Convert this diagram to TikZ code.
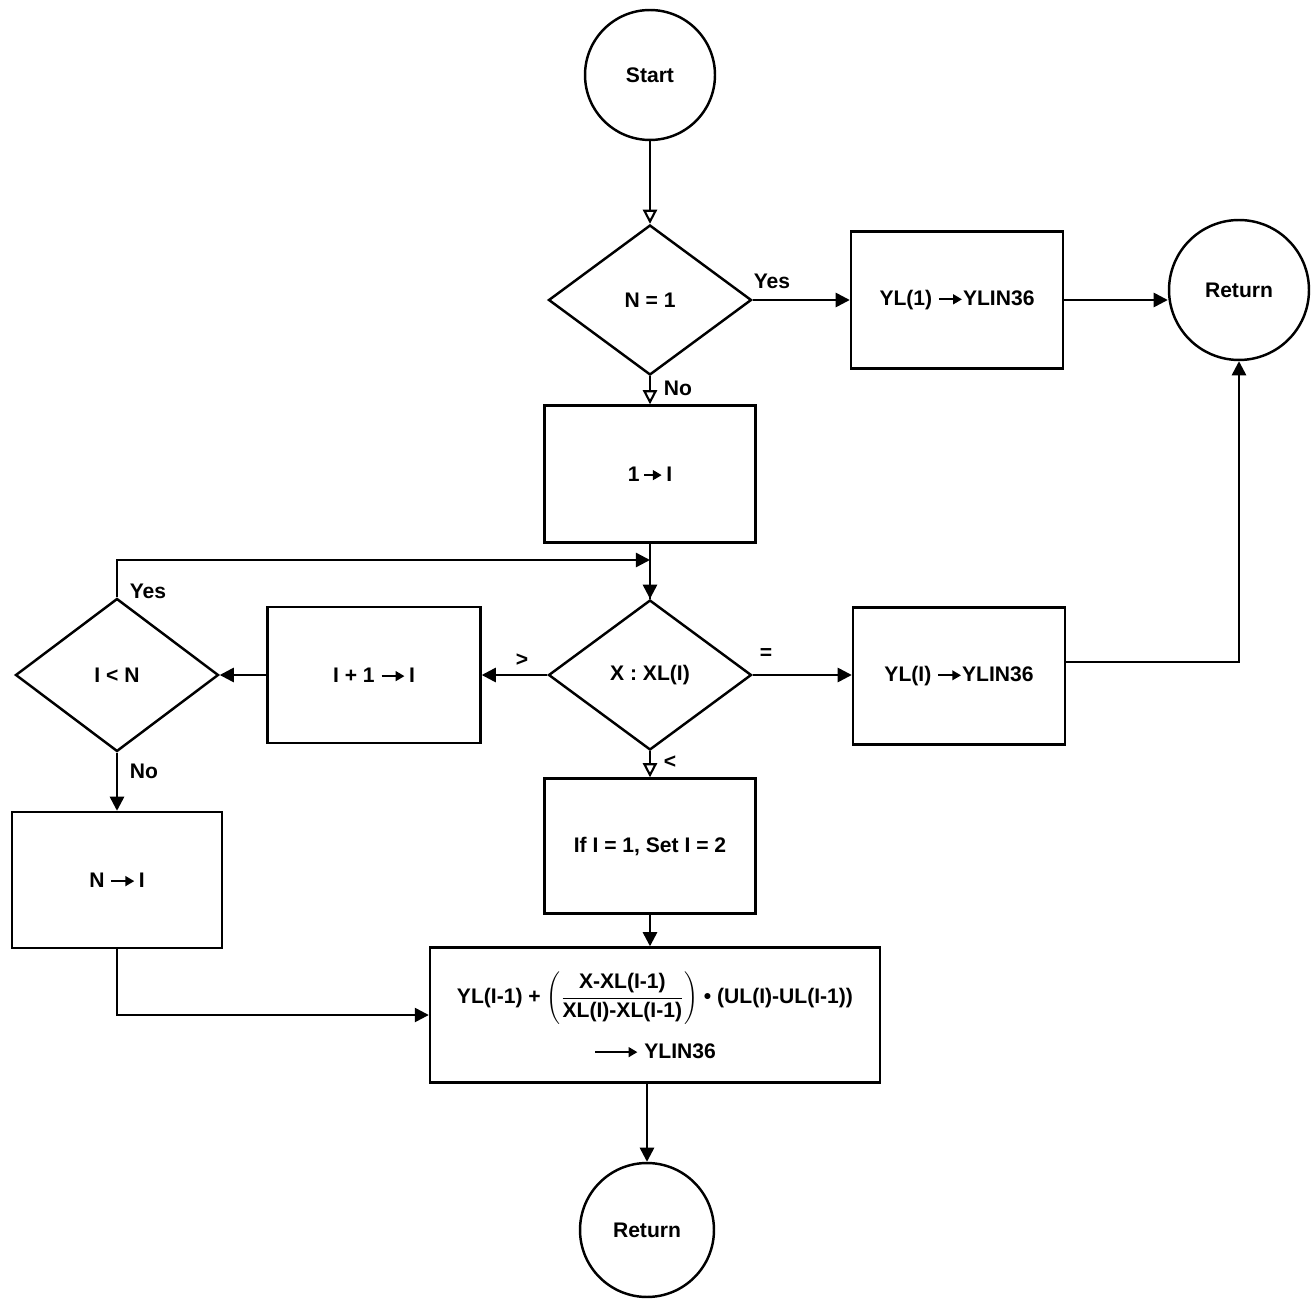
\documentclass[tikz,border=0pt]{standalone}
\usepackage{fontspec}
\setmainfont{Liberation Sans}
\usetikzlibrary{shapes.geometric,arrows.meta,calc}
\newcommand{\arr}[1][13pt]{\tikz[baseline=-0.55ex]\draw[line width=1.2pt,-{Triangle[length=5pt,width=5.5pt]}] (0pt,0pt) -- (#1,0pt);}
\begin{document}
\begin{tikzpicture}[x=0.02cm,y=-0.02cm,
  every node/.style={font=\fontsize{12}{14}\selectfont\bfseries},
  flow/.style={line width=1.4pt},
  fa/.style={flow,-{Triangle[length=8pt,width=8pt]}},
  oa/.style={flow,-{Triangle[open,length=8pt,width=8pt,line width=1.2pt]}},
  term/.style={draw,line width=1.4pt,circle,inner sep=0pt},
  proc/.style={draw,line width=1.4pt,rectangle,inner sep=2pt,minimum width=4.22cm,minimum height=2.74cm},
  dec/.style={draw,line width=1.4pt,diamond,inner sep=0pt,aspect=1.35,minimum width=4.06cm,minimum height=3.0cm},
  lbl/.style={inner sep=1pt}]
\useasboundingbox (0,0) rectangle (1316,1307);
% nodes
\node[term,minimum size=2.6cm] (start) at (650,75) {Start};
\node[dec] (d1) at (650,300) {N = 1};
\node[proc,minimum width=4.24cm] (b1) at (957,300) {YL(1) \arr YLIN36};
\node[term,minimum size=2.8cm] (ret1) at (1239,290) {Return};
\node[proc] (b2) at (650,474) {1\,\arr[10pt]\,I};
\node[dec] (d2) at (650,675) {X : XL(I)};
\node[proc,minimum width=4.24cm] (b3) at (959,676) {YL(I) \arr YLIN36};
\node[proc,minimum width=4.26cm,minimum height=2.72cm] (b4) at (374,675) {I + 1 \arr\,I};
\node[dec,minimum height=3.06cm] (d3) at (117,675) {I < N};
\node[proc,minimum width=4.2cm,minimum height=2.72cm] (b5) at (117,880) {N \arr\,I};
\node[proc,minimum height=2.7cm] (b6) at (650,846) {If I = 1, Set I = 2};
\node[proc,minimum width=9.0cm,minimum height=2.7cm,align=center] (b7) at (655,1015)
  {YL(I-1) + $\displaystyle\left(\frac{\mbox{X-XL(I-1)}}{\mbox{XL(I)-XL(I-1)}}\right)$ • (UL(I)-UL(I-1))\\[10pt]
   \arr[24pt]\ YLIN36};
\node[term,minimum size=2.68cm] (ret2) at (647,1230) {Return};
\coordinate (loopj) at (650,560);
\coordinate (b3out) at ($(b3.east)+(0,-14)$);
% connectors
\draw[oa] (start) -- (d1.north);
\draw[fa] (d1.east) -- (b1.west);
\node[lbl] (lyes1) at (772,281) {Yes};
\draw[fa] (b1.east) -- (ret1.west |- b1.east);
\draw[oa] (d1.south) -- (b2.north);
\node[lbl] (lno1) at (678,388) {No};
\draw[flow] (b2.south) -- (d2.north);
\draw[fa] (b2.south |- loopj) -- (d2.north);
\draw[fa] (d3.north) -- (d3.north |- loopj) -- (loopj);
\node[lbl] (lyes2) at (148,591) {Yes};
\draw[fa] (d2.west) -- (b4.east);
\node[lbl] (lgt) at (522,660) {>};
\draw[fa] (b4.west) -- (d3.east);
\draw[fa] (d3.south) -- (b5.north);
\node[lbl] (lno2) at (144,771) {No};
\draw[fa] (b5.south) -- (b5.south |- b7.west) -- (b7.west);
\draw[oa] (d2.south) -- (b6.north);
\node[lbl] (llt) at (670,762) {<};
\draw[fa] (b6.south) -- (b6.south |- b7.north);
\draw[fa] (ret2.north |- b7.south) -- (ret2.north);
\draw[fa] (d2.east) -- (b3.west |- d2.east);
\node[lbl] (leq) at (766,654) {=};
\draw[fa] (b3out) -- (b3out -| ret1.south) -- (ret1.south);
\end{tikzpicture}
\end{document}
